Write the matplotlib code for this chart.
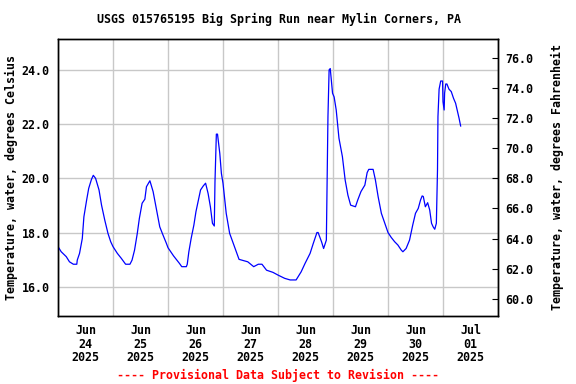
import numpy as np
import matplotlib
matplotlib.use("Agg")
import matplotlib.pyplot as plt
import matplotlib.dates as mdates
from matplotlib.ticker import FixedLocator, FuncFormatter

# ---- data: hours since 2025-06-24 00:00 and water temperature (deg C) ----
hours_from_start = [
    0.0, 1.4, 3.6, 5.0, 6.7, 8.2, 8.4, 9.4, 10.6, 11.3,
    12.5, 13.4, 14.6, 15.4, 16.4, 17.9, 19.0, 20.4, 21.8, 23.0,
    24.0, 25.9, 27.6, 29.5, 31.4, 32.3, 33.4, 34.6, 35.5, 36.7,
    37.9, 38.6, 40.1, 41.5, 43.0, 44.4, 45.8, 47.3, 48.0, 50.4,
    53.0, 54.0, 56.0, 56.4, 57.1, 58.1, 59.3, 60.2, 61.4, 62.2,
    63.4, 64.4, 65.5, 66.5, 67.4, 68.2, 68.5, 69.1, 69.6, 70.1,
    70.6, 71.3, 72.0, 73.4, 74.9, 77.0, 79.0, 82.8, 85.4, 87.4,
    89.0, 91.0, 93.8, 96.0, 98.9, 101.3, 103.9, 106.1, 107.8, 110.0,
    111.4, 113.0, 113.5, 115.0, 115.9, 117.1, 117.4, 117.8, 118.3, 118.8,
    119.8, 120.5, 121.4, 122.6, 124.1, 125.3, 126.5, 127.7, 129.8, 130.8,
    132.2, 133.9, 134.9, 135.6, 137.5, 138.5, 139.7, 141.1, 142.6, 144.0,
    145.4, 146.9, 148.3, 149.8, 150.5, 151.9, 153.4, 154.8, 156.0, 157.2,
    158.2, 158.9, 159.4, 160.3, 161.3, 162.2, 163.0, 163.7, 164.4, 165.1,
    165.6, 165.8, 166.3, 167.0, 167.8, 168.0, 168.5, 168.7, 169.2, 169.7,
    170.6, 171.6, 172.6, 173.5, 174.2, 175.0, 175.7,
]
temp_c = [
    17.48, 17.29, 17.11, 16.92, 16.83, 16.83, 16.98, 17.23, 17.78, 18.58,
    19.20, 19.63, 19.96, 20.11, 20.00, 19.57, 19.01, 18.46, 17.97, 17.66,
    17.48, 17.23, 17.05, 16.83, 16.83, 16.98, 17.35, 17.97, 18.52, 19.08,
    19.23, 19.69, 19.91, 19.51, 18.83, 18.21, 17.91, 17.60, 17.44, 17.14,
    16.86, 16.74, 16.74, 16.83, 17.29, 17.78, 18.28, 18.77, 19.26, 19.57,
    19.72, 19.82, 19.44, 18.95, 18.34, 18.24, 19.87, 21.63, 21.63, 21.29,
    20.92, 20.18, 19.82, 18.71, 17.97, 17.48, 17.01, 16.92, 16.74, 16.83,
    16.83, 16.61, 16.53, 16.43, 16.31, 16.25, 16.25, 16.55, 16.86, 17.23,
    17.60, 18.00, 18.00, 17.66, 17.41, 17.72, 19.57, 22.28, 24.00, 24.05,
    23.14, 23.00, 22.52, 21.48, 20.80, 19.94, 19.38, 19.01, 18.95, 19.20,
    19.51, 19.75, 20.21, 20.33, 20.33, 19.94, 19.32, 18.71, 18.34, 18.00,
    17.82, 17.66, 17.54, 17.35, 17.29, 17.41, 17.72, 18.28, 18.71, 18.89,
    19.20, 19.35, 19.33, 18.95, 19.10, 18.83, 18.34, 18.21, 18.12, 18.34,
    20.31, 22.28, 23.29, 23.59, 23.59, 22.83, 22.52, 23.14, 23.48, 23.48,
    23.29, 23.20, 22.95, 22.77, 22.52, 22.22, 21.93,
]
start_time = "2025-06-24T00:00"
end_time = "2025-07-02T00:00"
left_ticks_c = [16.0, 18.0, 20.0, 22.0, 24.0]
right_ticks_f = [60.0, 62.0, 64.0, 66.0, 68.0, 70.0, 72.0, 74.0, 76.0]
y_limits_c = (14.92, 25.14)

title = "USGS 015765195 Big Spring Run near Mylin Corners, PA"
left_label = "Temperature, water, degrees Celsius"
right_label = "Temperature, water, degrees Fahrenheit"
footer = "---- Provisional Data Subject to Revision ----"

# ---- figure ----
FONT = "DejaVu Sans Mono"
FS = 8.4
plt.rcParams["font.family"] = [FONT]
plt.rcParams["font.weight"] = "bold"

t0 = np.datetime64(start_time)
times = t0 + (np.array(hours_from_start) * 60).round().astype("timedelta64[m]")
times = times.astype("datetime64[ms]").astype(object)

fig = plt.figure(figsize=(5.76, 3.84), dpi=100)
ax = fig.add_axes([58 / 576, 1 - 316 / 384, 440 / 576, 277 / 384])

ax.plot(times, temp_c, color="#0000ff", linewidth=0.9, zorder=3)

ax.set_xlim(mdates.datestr2num(start_time), mdates.datestr2num(end_time))
ax.set_ylim(*y_limits_c)

# vertical grid at midnights (minor), labels at noon (major)
ax.xaxis.set_minor_locator(mdates.DayLocator())
ax.xaxis.set_major_locator(mdates.HourLocator(byhour=[12]))
ax.xaxis.set_major_formatter(mdates.DateFormatter("%b\n%d\n%Y"))
ax.grid(False)
ax.grid(True, which="minor", axis="x", color="#c8c8c8", linewidth=1.0)
ax.yaxis.set_major_locator(FixedLocator(left_ticks_c))
ax.yaxis.set_major_formatter(FuncFormatter(lambda v, p: f"{v:.1f}"))
ax.grid(True, which="major", axis="y", color="#c8c8c8", linewidth=1.0)
ax.set_axisbelow(True)

ax.tick_params(axis="x", which="both", length=0, pad=6, labelsize=FS)
ax.tick_params(axis="y", which="both", length=0, pad=6, labelsize=FS)
for lbl in ax.get_xticklabels():
    lbl.set_linespacing(1.05)
    lbl.set_fontweight("bold")
for lbl in ax.get_yticklabels():
    lbl.set_fontweight("bold")

for sp in ax.spines.values():
    sp.set_linewidth(1.0)
    sp.set_color("black")

# right axis in Fahrenheit
ax2 = ax.twinx()
ax2.set_ylim(y_limits_c[0] * 1.8 + 32, y_limits_c[1] * 1.8 + 32)
ax2.yaxis.set_major_locator(FixedLocator(right_ticks_f))
ax2.yaxis.set_major_formatter(FuncFormatter(lambda v, p: f"{v:.1f}"))
ax2.tick_params(axis="y", direction="in", length=4, width=0.8, pad=5, labelsize=FS)
for lbl in ax2.get_yticklabels():
    lbl.set_fontweight("bold")
for sp in ax2.spines.values():
    sp.set_linewidth(1.0)

fig.text(279 / 576, 1 - 19 / 384, title, ha="center", va="center", fontsize=FS,
         fontweight="bold", family=FONT)
fig.text(11.7 / 576, 1 - 177 / 384, left_label, rotation=90, ha="center",
         va="center", fontsize=FS, fontweight="bold", family=FONT)
fig.text(557.5 / 576, 1 - 177 / 384, right_label, rotation=90, ha="center",
         va="center", fontsize=FS, fontweight="bold", family=FONT)
fig.text(278 / 576, 1 - 375 / 384, footer, ha="center", va="center",
         fontsize=FS, fontweight="bold", color="#ff0000", family=FONT)

fig.savefig("out.png", dpi=100)
